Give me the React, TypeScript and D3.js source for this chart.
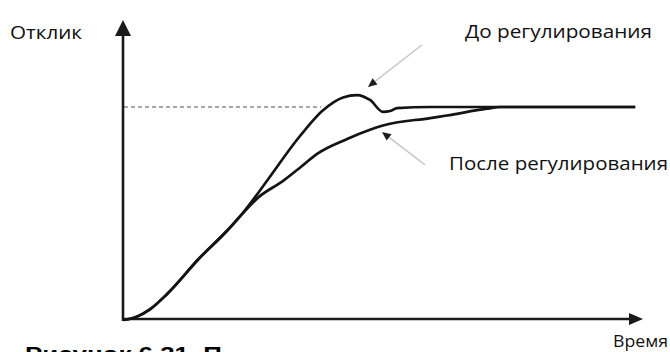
import React from "react";
import * as d3 from "d3";

// Time (arbitrary units 0..100) and normalized response (setpoint = 1)
const beforeT = [0, 2.1, 5.0, 8.3, 14.6, 19.9, 22.9, 27.6, 33.3, 38.3, 42.2, 44.9, 47.4, 49.9, 51.3, 52.6, 59.0, 98.5];
const beforeR = [0, 0.012, 0.05, 0.122, 0.292, 0.42, 0.502, 0.655, 0.845, 0.984, 1.045, 1.056, 1.033, 0.977, 0.981, 0.995, 1.0, 1.0];
const afterT = [0, 2.1, 5.0, 8.3, 14.6, 19.9, 22.9, 26.0, 30.6, 33.9, 37.2, 43.0, 47.4, 49.9, 59.0, 62.2, 69.9, 72.5, 98.5];
const afterR = [0, 0.012, 0.05, 0.122, 0.292, 0.42, 0.502, 0.578, 0.652, 0.715, 0.78, 0.85, 0.893, 0.913, 0.948, 0.96, 0.992, 1.0, 1.0];
const setpoint = 1;
const setpointEndT = 38.0;
// annotation pointers: [arrowhead t, r, tail t, r]
const beforePointer = [47.0, 1.094, 57.4, 1.291];
const afterPointer = [49.7, 0.883, 58.0, 0.728];
const yLabel = "Отклик";
const xLabel = "Время";
const beforeLabel = "До регулирования";
const afterLabel = "После регулирования";
const caption = "Рисунок 6.31. П";

const W = 670;
const H = 352;
const font = "'Open Sans', 'DejaVu Sans', sans-serif";

export default function App() {
  const x = d3.scaleLinear().domain([0, 100]).range([124, 643]);
  const y = d3.scaleLinear().domain([0, 1]).range([320, 107]);
  const yTop = 1.408;
  const line = d3
    .line<[number, number]>()
    .x((d) => x(d[0]))
    .y((d) => y(d[1]))
    .curve(d3.curveMonotoneX);
  const before: [number, number][] = beforeT.map((t, i) => [t, beforeR[i]]);
  const after: [number, number][] = afterT.map((t, i) => [t, afterR[i]]);
  const axisColor = "#1a1a1a";

  const arrowHead = (p: number[]) => {
    const hx = x(p[0]);
    const hy = y(p[1]);
    const tx = x(p[2]);
    const ty = y(p[3]);
    const ang = Math.atan2(hy - ty, hx - tx);
    const L = 9;
    const w = 4;
    const bx = hx - L * Math.cos(ang);
    const by = hy - L * Math.sin(ang);
    const nx = -Math.sin(ang) * w;
    const ny = Math.cos(ang) * w;
    return (
      <g>
        <line x1={tx} y1={ty} x2={bx} y2={by} stroke="#c8c8c8" strokeWidth={1.5} />
        <path d={`M${hx},${hy}L${bx + nx},${by + ny}L${bx - nx},${by - ny}Z`} fill="#1e1e1e" />
      </g>
    );
  };

  return (
    <svg
      width={W}
      height={H}
      viewBox={`0 0 ${W} ${H}`}
      style={{ position: "absolute", left: 0, top: 0, background: "#fff" }}
    >
      <rect x={0} y={0} width={W} height={H} fill="#fff" />
      {/* setpoint dashed line */}
      <line
        x1={x(0)}
        x2={x(setpointEndT)}
        y1={y(setpoint)}
        y2={y(setpoint)}
        stroke="#8a8a8a"
        strokeWidth={1.3}
        strokeDasharray="4,3"
      />
      {/* axes */}
      <line x1={x(0) - 1} x2={x(0) - 1} y1={y(0) + 1} y2={y(yTop) + 14} stroke={axisColor} strokeWidth={2.6} />
      <path
        d={`M${x(0) - 1},${y(yTop)}L${x(0) - 9},${y(yTop) + 16}L${x(0) + 7},${y(yTop) + 16}Z`}
        fill={axisColor}
      />
      <line x1={x(0) - 2} x2={x(100) - 12} y1={y(0) - 1} y2={y(0) - 1} stroke={axisColor} strokeWidth={2.6} />
      <path
        d={`M${x(100)},${y(0) - 1}L${x(100) - 14},${y(0) - 7}L${x(100) - 14},${y(0) + 5}Z`}
        fill={axisColor}
      />
      {/* curves */}
      <path d={line(after) || ""} fill="none" stroke="#141414" strokeWidth={2.7} strokeLinejoin="round" />
      <path d={line(before) || ""} fill="none" stroke="#141414" strokeWidth={2.7} strokeLinejoin="round" />
      {/* pointers */}
      {arrowHead(beforePointer)}
      {arrowHead(afterPointer)}
      {/* labels */}
      <text x={10} y={39} fontFamily={font} fontSize={18} fill="#111" textLength={72} lengthAdjust="spacingAndGlyphs">
        {yLabel}
      </text>
      <text x={465} y={38} fontFamily={font} fontSize={18} fill="#111" textLength={187} lengthAdjust="spacingAndGlyphs">
        {beforeLabel}
      </text>
      <text x={449} y={170} fontFamily={font} fontSize={18} fill="#111" textLength={219} lengthAdjust="spacingAndGlyphs">
        {afterLabel}
      </text>
      <text x={613} y={347} fontFamily={font} fontSize={17} fill="#111" textLength={55} lengthAdjust="spacingAndGlyphs">
        {xLabel}
      </text>
      <text
        x={25}
        y={361}
        fontFamily="'Liberation Sans', Arial, sans-serif"
        fontWeight="bold"
        fontSize={20}
        fill="#000"
        textLength={197}
        lengthAdjust="spacingAndGlyphs"
      >
        {caption}
      </text>
    </svg>
  );
}
